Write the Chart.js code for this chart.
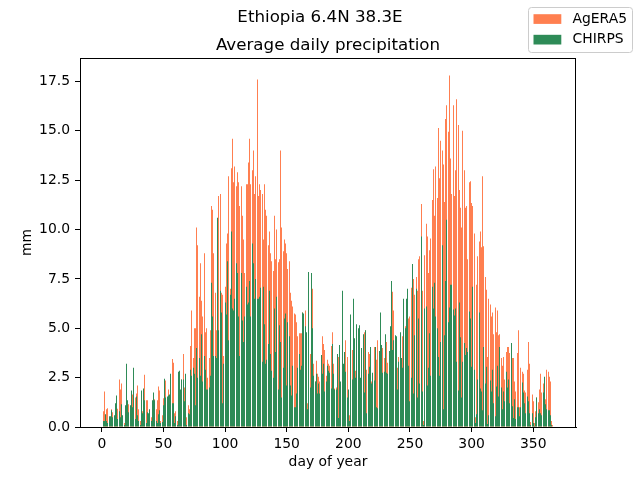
<!DOCTYPE html>
<html>
<head>
<meta charset="utf-8">
<title>Ethiopia 6.4N 38.3E</title>
<script src="https://cdn.jsdelivr.net/npm/chart.js@4"></script>
<style>
  html, body { margin: 0; padding: 0; background: #fff; }
  canvas { display: block; }
</style>
</head>
<body>
<canvas id="myChart" width="640" height="480"></canvas>
<script>
// tick labels
const xTicks = [0, 50, 100, 150, 200, 250, 300, 350];
const yTicks = [0, 2.5, 5, 7.5, 10, 12.5, 15, 17.5];

// average daily precipitation (mm), day 1..366
const agera5 = [
  0.8, 1.8, 0.6, 0.9, 0.95, 0.5, 0.4, 0.9, 0.75, 0.3,
  0.9, 1.0, 0.93, 2.4, 1.9, 2.2, 0.4, 0.2, 0.7, 1.0,
  1.2, 1.15, 0.6, 1.0, 1.65, 1.5, 1.5, 1.7, 2.1, 0.9,
  0.3, 0.8, 0.8, 1.2, 2.65, 1.35, 1.35, 0.2, 0.5, 0.5,
  0.6, 1.5, 1.4, 0.9, 1.35, 2.05, 1.85, 0.3, 0.6, 1.45,
  2.35, 2.35, 1.0, 1.9, 1.2, 1.5, 3.45, 3.25, 0.7, 0.8,
  0.3, 2.6, 2.0, 1.5, 2.4, 3.7, 2.0, 2.0, 0.5, 1.1,
  0.9, 4.1, 5.9, 3.5, 5.0, 5.0, 10.1, 9.2, 6.6, 8.3,
  6.4, 5.6, 8.8, 4.8, 5.0, 2.5, 3.5, 4.9, 11.2, 11.0,
  8.8, 6.8, 4.9, 6.1, 11.7, 11.8, 6.8, 6.7, 3.6, 7.1,
  9.3, 9.8, 12.7, 7.0, 13.1, 14.6, 12.4, 13.2, 12.2, 12.9,
  12.4, 11.2, 12.2, 10.7, 9.5, 7.8, 12.3, 12.3, 13.4, 14.6,
  12.3, 13.0, 14.0, 11.8, 12.7, 17.6, 11.7, 12.3, 12.0, 11.8,
  9.5, 12.3, 11.0, 10.7, 9.2, 9.9, 8.8, 8.4, 7.9, 10.7,
  8.5, 10.0, 8.35, 8.5, 14.0, 10.1, 8.9, 9.5, 9.3, 8.8,
  8.0, 8.4, 6.8, 6.4, 6.1, 5.75, 5.7, 5.3, 4.6, 4.75,
  4.75, 4.75, 5.8, 5.0, 5.9, 2.1, 1.2, 5.5, 3.7, 3.0,
  7.0, 3.2, 2.3, 3.35, 2.7, 2.55, 2.3, 3.0, 4.6, 4.2,
  3.9, 2.6, 3.4, 3.2, 3.1, 4.1, 4.8, 3.2, 1.95, 2.0,
  3.0, 3.55, 3.0, 1.5, 5.0, 2.4, 3.0, 4.4, 3.55, 1.0,
  0.6, 2.7, 3.9, 5.0, 2.8, 2.85, 4.0, 4.0, 2.45, 1.2,
  2.5, 3.5, 4.8, 4.9, 2.9, 3.8, 3.7, 2.5, 2.3, 1.8,
  4.05, 0.95, 3.4, 4.4, 3.0, 4.0, 3.5, 4.0, 3.5, 3.0,
  4.3, 3.25, 3.0, 4.2, 5.5, 6.85, 5.9, 4.0, 3.5, 3.0,
  3.55, 4.0, 2.5, 4.6, 5.6, 5.1, 6.4, 6.95, 5.5, 5.6,
  7.05, 7.05, 7.5, 6.7, 7.6, 6.9, 8.5, 8.65, 11.3, 6.9,
  0.3, 8.7, 10.3, 9.65, 7.8, 8.95, 9.55, 11.5, 13.05, 10.7,
  13.2, 11.6, 15.15, 12.6, 14.5, 14.0, 13.3, 11.4, 15.6, 16.3,
  14.95, 17.8, 13.6, 11.8, 16.3, 11.7, 13.0, 16.6, 15.3, 12.0,
  11.1, 10.1, 15.0, 13.0, 11.1, 11.2, 8.5, 12.4, 12.45, 11.35,
  11.2, 9.8, 0.5, 7.2, 8.65, 9.4, 9.9, 9.1, 12.7, 9.15,
  7.6, 6.95, 3.55, 6.5, 6.2, 5.6, 5.8, 4.7, 6.05, 4.8,
  5.9, 4.65, 4.7, 3.5, 3.1, 3.55, 2.4, 3.8, 4.05, 4.05,
  3.75, 4.2, 3.5, 3.5, 2.3, 1.8, 3.75, 4.9, 1.0, 3.0,
  2.8, 2.7, 1.85, 1.75, 2.9, 4.3, 3.2, 0.25, 1.65, 1.3,
  0.2, 0.8, 1.5, 1.25, 1.9, 2.7, 1.75, 2.2, 1.8, 1.4,
  2.9, 2.8, 2.55, 2.3, 0.3, 0.1
];

const chirps = [
  0.3, 0.3, 0.65, 0.3, 0.2, 0.55, 0.55, 0.85, 0.5, 0.6,
  1.2, 1.6, 0.4, 0.8, 0.5, 1.15, 0.6, 0.1, 1.1, 3.2,
  1.35, 0.75, 1.1, 1.85, 1.0, 3.0, 0.4, 1.55, 0.6, 0.3,
  0.1, 1.85, 0.7, 1.95, 1.35, 0.2, 0.75, 0.7, 0.9, 0.3,
  1.35, 1.75, 1.35, 0.3, 0.2, 0.65, 0.85, 0.2, 0.25, 1.1,
  2.45, 1.5, 1.55, 1.6, 1.65, 2.7, 1.2, 1.2, 0.2, 0.55,
  0.1, 2.8, 2.85, 1.9, 2.4, 2.4, 1.3, 2.7, 0.1, 0.7,
  0.65, 2.9, 2.6, 3.0, 2.7, 1.1, 4.0, 2.5, 3.5, 2.6,
  4.7, 2.3, 3.6, 2.9, 1.9, 1.9, 2.0, 2.6, 7.3, 5.6,
  3.6, 3.6, 3.5, 10.6, 4.9, 6.9, 5.8, 1.2, 3.2, 6.3,
  5.7, 8.4, 4.4, 6.7, 9.9, 6.0, 5.9, 6.5, 8.3, 7.8,
  5.6, 3.6, 7.8, 5.4, 4.3, 5.6, 7.1, 6.2, 6.3, 7.4,
  5.6, 9.3, 8.3, 6.5, 7.5, 6.5, 6.5, 6.6, 7.05, 3.3,
  7.1, 5.2, 3.2, 3.4, 4.2, 6.9, 3.7, 2.85, 2.5, 6.0,
  3.8, 6.6, 1.9, 5.15, 4.3, 1.5, 3.0, 5.5, 5.75, 2.1,
  5.3, 4.6, 2.1, 1.6, 3.1, 1.0, 1.0, 1.7, 3.0, 3.7,
  2.9, 3.1, 5.8, 5.75, 5.1, 4.8, 0.9, 7.85, 2.0, 7.8,
  5.0, 2.6, 2.3, 2.7, 1.7, 2.2, 1.7, 3.65, 2.7, 3.2,
  1.8, 2.3, 3.1, 2.85, 2.75, 1.95, 4.2, 2.7, 1.9, 1.9,
  3.7, 0.45, 4.15, 2.3, 6.9, 3.2, 3.8, 2.8, 1.5, 1.9,
  0.3, 5.7, 2.4, 6.5, 4.5, 2.5, 5.2, 5.0, 5.15, 2.5,
  4.0, 4.7, 1.75, 4.9, 0.7, 2.7, 3.05, 4.05, 2.2, 2.75,
  2.35, 4.05, 1.0, 0.95, 3.85, 5.8, 4.15, 2.75, 2.8, 4.7,
  2.75, 2.7, 3.85, 5.1, 7.4, 3.9, 4.4, 4.65, 4.6, 1.9,
  3.3, 4.8, 3.5, 3.0, 6.5, 5.0, 6.5, 7.0, 3.1, 1.3,
  2.5, 8.25, 1.7, 4.65, 7.0, 1.5, 5.5, 2.2, 9.65, 1.8,
  0.1, 6.0, 6.1, 2.1, 3.0, 4.75, 2.6, 7.1, 6.0, 7.3,
  5.6, 5.0, 3.55, 2.6, 4.3, 9.2, 0.9, 4.65, 7.4, 10.5,
  5.3, 6.05, 7.2, 7.2, 5.95, 5.65, 6.0, 3.3, 1.85, 6.3,
  4.55, 1.5, 3.3, 4.25, 3.65, 4.0, 3.8, 5.85, 5.5, 3.05,
  7.1, 2.9, 0.2, 0.65, 2.4, 5.8, 1.95, 1.8, 0.85, 4.05,
  2.2, 3.05, 0.15, 0.6, 2.35, 1.8, 2.9, 1.2, 0.55, 2.05,
  3.1, 1.55, 4.05, 2.0, 0.9, 1.8, 1.3, 2.8, 2.0, 2.4,
  1.2, 4.25, 1.05, 0.45, 1.4, 0.4, 1.0, 1.0, 0.55, 1.0,
  2.25, 1.75, 1.2, 0.7, 1.55, 1.3, 0.7, 0.1, 0.7, 0.2,
  0.05, 0.5, 1.5, 0.7, 0.9, 0.7, 0.6, 1.75, 2.55, 1.15,
  0.9, 0.85, 0.85, 0.6, 0.1, 0.0
];

const days = agera5.map((v, i) => i + 1);

const FONT = '"DejaVu Sans", sans-serif';

// matplotlib snaps thin bars to whole pixels; do the same while bars are drawn
const snapBars = {
  id: 'snapBars',
  beforeDatasetsDraw(chart) {
    const ctx = chart.ctx;
    const rect = ctx.rect;
    ctx._origRect = rect;
    ctx.rect = function (x, y, w, h) {
      const x0 = Math.round(x);
      const x1 = Math.max(x0 + 1, Math.round(x + w));
      return rect.call(this, x0, y, x1 - x0, h);
    };
  },
  afterDatasetsDraw(chart) {
    const ctx = chart.ctx;
    if (ctx._origRect) {
      ctx.rect = ctx._origRect;
      delete ctx._origRect;
    }
  }
};

// titles, frame, axis labels and the figure legend
const figureText = {
  id: 'figureText',
  beforeDraw(chart) {
    const ctx = chart.ctx;
    ctx.save();
    ctx.fillStyle = '#fff';
    ctx.fillRect(0, 0, chart.width, chart.height);
    ctx.restore();
  },
  afterDraw(chart) {
    const ctx = chart.ctx;
    const a = chart.chartArea;
    const cx = (a.left + a.right) / 2;
    ctx.save();

    // axes frame
    ctx.strokeStyle = '#000';
    ctx.lineWidth = 1;
    ctx.strokeRect(Math.round(a.left) + 0.5, Math.round(a.top) + 0.5,
      Math.round(a.right - a.left) - 1, Math.round(a.bottom - a.top));

    ctx.fillStyle = '#000';
    ctx.textAlign = 'center';
    ctx.font = '16.7px ' + FONT;
    ctx.textBaseline = 'top';
    ctx.fillText('Ethiopia 6.4N 38.3E', 320, 9.5);
    ctx.textBaseline = 'alphabetic';
    ctx.fillText('Average daily precipitation', cx, a.top - 8.3);

    ctx.font = '13.9px ' + FONT;
    ctx.textBaseline = 'middle';
    ctx.fillText('day of year', cx, 462);
    ctx.save();
    ctx.translate(27, (a.top + a.bottom) / 2);
    ctx.rotate(-Math.PI / 2);
    ctx.fillText('mm', 0, 0);
    ctx.restore();

    // legend box
    const bx = 528.5, by = 7.5, bw = 104, bh = 45, r = 3;
    ctx.beginPath();
    ctx.moveTo(bx + r, by);
    ctx.arcTo(bx + bw, by, bx + bw, by + bh, r);
    ctx.arcTo(bx + bw, by + bh, bx, by + bh, r);
    ctx.arcTo(bx, by + bh, bx, by, r);
    ctx.arcTo(bx, by, bx + bw, by, r);
    ctx.closePath();
    ctx.fillStyle = 'rgba(255,255,255,0.8)';
    ctx.fill();
    ctx.strokeStyle = '#cccccc';
    ctx.stroke();

    ctx.textAlign = 'left';
    chart.data.datasets.forEach((ds, i) => {
      const y = 14.2 + i * 20.6;
      ctx.fillStyle = ds.backgroundColor;
      ctx.fillRect(533.5, y, 27.8, 9.7);
      ctx.fillStyle = '#000';
      ctx.fillText(ds.label, 572.5, y + 5);
    });
    ctx.restore();
  }
};

const tickFont = { family: 'DejaVu Sans', size: 13.9 };

const ctx = document.getElementById('myChart').getContext('2d');
const myChart = new Chart(ctx, {
  type: 'bar',
  data: {
    labels: days,
    datasets: [
      { label: 'AgERA5', data: agera5, backgroundColor: '#ff7f50', order: 1 },
      { label: 'CHIRPS', data: chirps, backgroundColor: '#2e8b57', order: 0 }
    ]
  },
  options: {
    responsive: false,
    animation: false,
    devicePixelRatio: 1,
    layout: { padding: { top: 58, right: 64, left: 0, bottom: 0 } },
    plugins: {
      legend: { display: false },
      tooltip: { enabled: false },
      title: { display: false }
    },
    datasets: {
      bar: { grouped: false, barPercentage: 0.8, categoryPercentage: 1.0, borderWidth: 0 }
    },
    scales: {
      x: {
        type: 'linear',
        min: -17.69,
        max: 384.69,
        offset: false,
        afterBuildTicks: s => { s.ticks = xTicks.map(v => ({ value: v })); },
        afterFit: s => { s.height = 53; },
        grid: { offset: false, drawOnChartArea: false, drawTicks: true, tickLength: 5, tickColor: '#000' },
        border: { display: true, color: '#000' },
        ticks: { color: '#000', font: tickFont, padding: 4, maxRotation: 0, autoSkip: false,
          callback: v => String(v) }
      },
      y: {
        min: 0,
        max: 18.69,
        afterBuildTicks: s => { s.ticks = yTicks.map(v => ({ value: v })); },
        afterFit: s => { s.width = 80; },
        grid: { drawOnChartArea: false, drawTicks: true, tickLength: 5, tickColor: '#000' },
        border: { display: true, color: '#000' },
        ticks: { color: '#000', font: tickFont, padding: 5, autoSkip: false,
          callback: v => v.toFixed(1) }
      }
    }
  },
  plugins: [snapBars, figureText]
});
</script>
</body>
</html>
